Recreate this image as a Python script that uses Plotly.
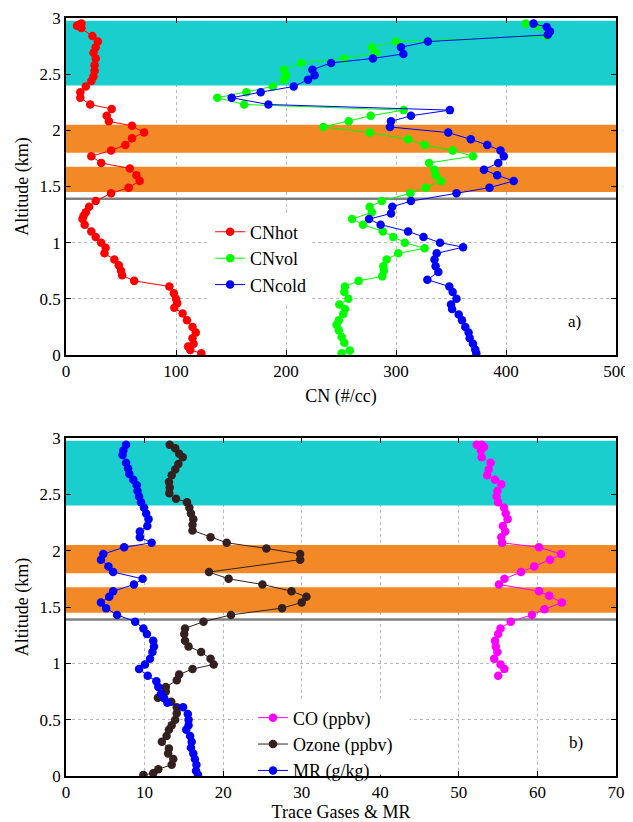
import plotly.graph_objects as go

# ---------------- data (altitude km, value) ----------------
CN_HOT = [(0.015,123),(0.045,113),(0.075,111),(0.10,116),(0.15,115),(0.20,118),(0.25,115),(0.31,110),
          (0.37,106),(0.42,98.5),(0.46,101),(0.50,100),(0.55,98),(0.61,94),(0.66,62),(0.71,51),(0.75,50),
          (0.80,48),(0.85,44),(0.905,35),(0.955,36),(1.00,32),(1.05,27),(1.10,23),(1.16,17),(1.21,15),
          (1.24,16),(1.27,18),(1.32,21),(1.37,27),(1.44,41),(1.49,57),(1.55,67),(1.60,64),(1.66,58),
          (1.71,32),(1.77,23),(1.82,41),(1.87,54),(1.93,60),(1.98,71),(2.04,60),(2.08,39),(2.13,37),
          (2.19,41.5),(2.23,22),(2.29,13),(2.34,13),(2.39,18),(2.44,23),(2.48,25),(2.53,26),(2.58,26),
          (2.64,27),(2.69,25),(2.74,27),(2.79,29),(2.84,24),(2.91,14),(2.93,10),(2.94,12),(2.95,14)]

CN_VOL = [(0.015,250.6),(0.04,258),(0.11,253),(0.16,250.6),(0.22,248),(0.27,246),(0.31,248),(0.365,252),
          (0.41,253.6),(0.45,248.5),(0.50,256.7),(0.56,253),(0.61,253.6),(0.66,266),(0.70,287.5),(0.75,289),
          (0.79,288.5),(0.85,291.5),(0.905,302),(0.95,326),(1.00,308),(1.05,297.5),(1.10,288),(1.16,270),
          (1.21,260),(1.27,278),(1.32,276),(1.37,287),(1.44,313),(1.49,327),(1.55,341),(1.60,336),
          (1.65,335),(1.71,330),(1.77,370),(1.82,351.5),(1.87,326),(1.92,311),(1.98,276),(2.03,234),
          (2.08,257),(2.13,277),(2.18,307),(2.23,162),(2.29,137.5),(2.34,164),(2.39,188),(2.45,198),
          (2.49,200),(2.54,198),(2.60,214),(2.64,253),(2.69,282),(2.74,278),(2.79,300),(2.84,437),
          (2.93,428),(2.95,418)]

CN_COLD = [(0.015,373),(0.05,372),(0.10,370),(0.15,367),(0.20,366),(0.25,363),(0.31,360),(0.36,357),
           (0.41,351),(0.45,350),(0.50,355),(0.56,351.5),(0.61,348.5),(0.67,328.5),(0.74,338.5),(0.79,336),
           (0.85,335),(0.905,337),(0.96,361),(1.00,340),(1.05,325),(1.10,311),(1.16,286),(1.21,275.5),
           (1.26,295.5),(1.32,296.6),(1.37,313.6),(1.44,355),(1.49,385),(1.55,407),(1.60,392),(1.65,380),
           (1.71,393),(1.77,398),(1.82,395),(1.87,383),(1.92,368),(1.98,347.5),(2.03,294.5),(2.08,295.5),
           (2.13,313.6),(2.18,349),(2.23,184),(2.29,150.6),(2.34,177),(2.39,207),(2.45,220),(2.49,226),
           (2.54,224),(2.60,241),(2.64,279),(2.68,306.7),(2.74,304.5),(2.79,329),(2.85,438),(2.88,440),
           (2.92,437),(2.95,425)]

CO = [(0.89,55.0),(0.95,55.8),(0.99,55.3),(1.04,54.5),(1.10,54.9),(1.15,54.7),(1.20,54.6),(1.26,55.0),
      (1.31,55.3),(1.37,56.6),(1.43,59.3),(1.48,60.9),(1.54,63.1),(1.60,61.5),(1.64,60.2),(1.70,55.1),
      (1.75,55.8),(1.81,57.9),(1.86,59.6),(1.92,61.6),(1.97,63.0),(2.03,60.2),(2.07,55.5),(2.12,55.4),
      (2.17,55.9),(2.22,55.6),(2.28,56.2),(2.33,55.96),(2.38,55.75),(2.43,55.0),(2.48,54.8),(2.53,54.9),
      (2.59,55.4),(2.63,54.6),(2.67,53.6),(2.72,53.8),(2.78,54.05),(2.83,52.9),(2.89,52.8),(2.92,53.2),
      (2.94,52.9),(2.94,52.27)]

OZONE = [(0.01,9.85),(0.024,11.1),(0.06,11.75),(0.10,13.45),(0.15,13.65),(0.20,13.0),(0.245,13.1),
         (0.305,12.2),(0.355,12.8),(0.41,13.1),(0.45,13.45),(0.50,13.9),(0.556,14.1),(0.61,14.1),
         (0.66,13.4),(0.695,11.7),(0.75,12.7),(0.79,12.7),(0.85,14.1),(0.90,14.4),(0.95,16.1),(0.99,18.8),
         (1.04,18.4),(1.10,17.2),(1.15,15.6),(1.20,15.15),(1.26,15.05),(1.31,15.15),(1.37,17.5),(1.43,21.0),
         (1.49,27.5),(1.54,30.0),(1.59,30.6),(1.64,28.7),(1.70,25.0),(1.75,20.7),(1.81,18.2),(1.92,29.8),
         (1.97,29.8),(2.02,25.5),(2.07,20.45),(2.12,18.4),(2.18,16.1),(2.23,16.1),(2.28,16.2),(2.33,15.9),
         (2.38,15.7),(2.43,15.4),(2.46,14.0),(2.51,13.15),(2.56,13.2),(2.61,13.1),(2.67,13.45),(2.72,13.9),
         (2.77,14.3),(2.83,14.85),(2.86,14.4),(2.91,13.9),(2.94,13.2)]

MR = [(0.01,16.8),(0.047,16.55),(0.10,16.6),(0.15,16.4),(0.20,16.2),(0.25,15.9),(0.305,16.0),(0.355,15.8),
      (0.41,15.3),(0.45,15.6),(0.50,15.6),(0.55,15.5),(0.61,14.9),(0.65,12.9),(0.69,12.5),(0.73,12.1),
      (0.79,11.75),(0.84,11.5),(0.89,10.4),(0.95,9.3),(0.99,10.05),(1.04,10.7),(1.10,11.0),(1.15,11.2),
      (1.20,11.1),(1.26,10.3),(1.31,9.85),(1.37,8.8),(1.43,6.5),(1.49,5.1),(1.54,4.45),(1.59,5.5),
      (1.64,6.0),(1.70,8.65),(1.75,9.75),(1.81,6.0),(1.86,5.4),(1.92,4.45),(1.97,4.75),(2.03,7.4),
      (2.07,10.9),(2.12,9.4),(2.17,9.4),(2.22,10.35),(2.28,10.5),(2.33,10.2),(2.38,9.93),(2.43,9.55),
      (2.48,9.3),(2.53,9.1),(2.58,9.0),(2.63,8.57),(2.68,8.06),(2.73,7.9),(2.78,7.64),(2.85,7.2),
      (2.89,7.3),(2.94,7.64)]

CYAN_BAND = (2.40, 2.975)
ORANGE_BANDS = [(1.80, 2.05), (1.45, 1.675)]
GREY_LINE_ALT = 1.39

Y_TICKS = [0, 0.5, 1, 1.5, 2, 2.5, 3]
Y_TICK_TEXT = ["0", "0.5", "1", "1.5", "2", "2.5", "3"]
X1_TICKS = [0, 100, 200, 300, 400, 500]
X2_TICKS = [0, 10, 20, 30, 40, 50, 60, 70]

FONT = "Liberation Serif"
CYAN = "rgb(27,206,206)"
ORANGE = "rgb(242,137,38)"

fig = go.Figure()

# background bands (filled traces: above the grid, below the data)
for xa, ya, xt in (("x", "y", X1_TICKS), ("x2", "y2", X2_TICKS)):
    xmin, xmax = xt[0], xt[-1]
    for (b0, b1), col in [(CYAN_BAND, CYAN)] + [(b, ORANGE) for b in ORANGE_BANDS]:
        fig.add_trace(go.Scatter(x=[xmin, xmax, xmax, xmin, xmin], y=[b0, b0, b1, b1, b0],
                                 mode="lines", fill="toself", fillcolor=col, line=dict(width=0),
                                 hoverinfo="skip", showlegend=False, xaxis=xa, yaxis=ya))
    fig.add_trace(go.Scatter(x=[xmin, xmax], y=[GREY_LINE_ALT, GREY_LINE_ALT], mode="lines",
                             line=dict(color="rgb(128,128,128)", width=2.5),
                             hoverinfo="skip", showlegend=False, xaxis=xa, yaxis=ya))

def add_series(data, name, color, xa, ya, legend):
    alts = [a for a, v in data]
    vals = [v for a, v in data]
    fig.add_trace(go.Scatter(x=vals, y=alts, mode="lines+markers", name=name,
                             line=dict(color=color, width=1),
                             marker=dict(color=color, size=8.5),
                             xaxis=xa, yaxis=ya, legend=legend))

add_series(CN_HOT, "CNhot", "#FF0000", "x", "y", "legend")
add_series(CN_VOL, "CNvol", "#00FF00", "x", "y", "legend")
add_series(CN_COLD, "CNcold", "#0000FF", "x", "y", "legend")
add_series(CO, "CO (ppbv)", "#FF00FF", "x2", "y2", "legend2")
add_series(OZONE, "Ozone (ppbv)", "#33201F", "x2", "y2", "legend2")
add_series(MR, "MR (g/kg)", "#0000FF", "x2", "y2", "legend2")

axis_common = dict(showline=True, linecolor="black", linewidth=1.5, mirror="ticks",
                   ticks="inside", ticklen=5, tickcolor="black", tickwidth=1, automargin=False,
                   showgrid=True, gridcolor="rgb(185,185,185)", griddash="3px,3px", gridwidth=1,
                   zeroline=False, tickfont=dict(family=FONT, size=17, color="black"))

# The page body keeps its default 8px margin, so the figure is laid out 8px in from the page corner.
fig.update_layout(
    width=625, height=814,
    margin=dict(l=58, r=17, t=10, b=46, autoexpand=False),
    paper_bgcolor="white", plot_bgcolor="white",
    font=dict(family=FONT, color="black"),
    showlegend=True,
    xaxis=dict(domain=[0, 1], range=[0, 500], tickvals=X1_TICKS, anchor="y",
               title=dict(text="CN (#/cc)", font=dict(family=FONT, size=18), standoff=9), **axis_common),
    yaxis=dict(domain=[0.5554, 1.0], range=[0, 3], tickvals=Y_TICKS, ticktext=Y_TICK_TEXT, anchor="x",
               title=dict(text="Altitude (km)", font=dict(family=FONT, size=18), standoff=6), **axis_common),
    xaxis2=dict(domain=[0, 1], range=[0, 70], tickvals=X2_TICKS, anchor="y2",
                title=dict(text="Trace Gases & MR", font=dict(family=FONT, size=18), standoff=4), **axis_common),
    yaxis2=dict(domain=[0, 0.4459], range=[0, 3], tickvals=Y_TICKS, ticktext=Y_TICK_TEXT, anchor="x2",
                title=dict(text="Altitude (km)", font=dict(family=FONT, size=18), standoff=6), **axis_common),
    legend=dict(x=0.262, y=0.742, xanchor="left", yanchor="top", bgcolor="white",
                font=dict(family=FONT, size=18), borderwidth=0, tracegroupgap=0),
    legend2=dict(x=0.34, y=0.101, xanchor="left", yanchor="top", bgcolor="rgba(0,0,0,0)",
                 font=dict(family=FONT, size=18), borderwidth=0, tracegroupgap=0),
    shapes=[
        # white backing behind the lower legend (hides grid, keeps the axis line visible)
        dict(type="rect", xref="x2 domain", yref="y2 domain", x0=0.34, x1=0.625, y0=0.004, y1=0.225,
             fillcolor="white", line=dict(width=0), layer="above"),
    ],
    annotations=[
        dict(text="a)", xref="x domain", yref="y domain", x=0.925, y=0.098, xanchor="center",
             yanchor="middle", showarrow=False, font=dict(family=FONT, size=17)),
        dict(text="b)", xref="x2 domain", yref="y2 domain", x=0.927, y=0.098, xanchor="center",
             yanchor="middle", showarrow=False, font=dict(family=FONT, size=17)),
    ],
)

fig.write_html("out.html", config={"displayModeBar": False})
